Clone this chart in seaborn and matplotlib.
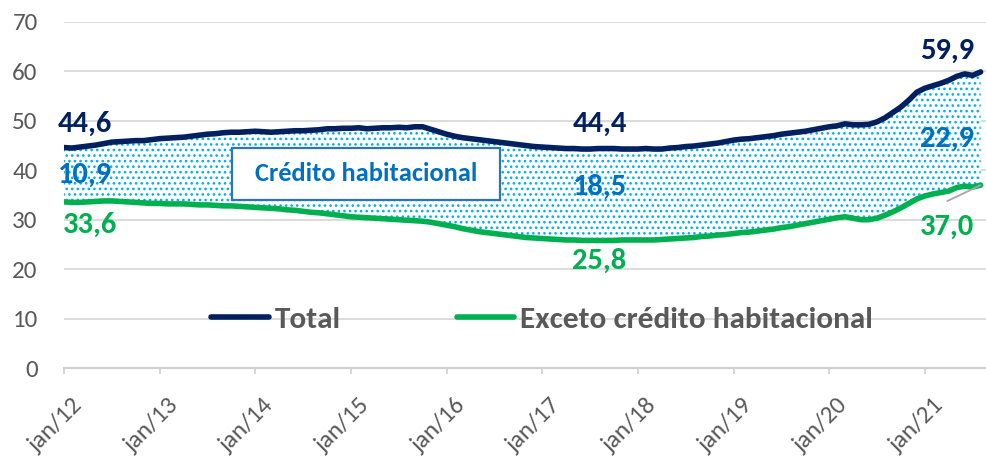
import matplotlib
matplotlib.use('Agg')
import matplotlib.pyplot as plt
from matplotlib.patches import Rectangle
from matplotlib.transforms import ScaledTranslation
import seaborn as sns
import pandas as pd
import numpy as np

# Série mensal jan/12 - ago/21 (% do PIB)
total = [
    44.6, 44.5, 44.7, 44.9, 45.1, 45.4, 45.7, 45.8, 45.9, 46.0, 46.0, 46.2,  # 2012
    46.4, 46.5, 46.6, 46.7, 46.9, 47.1, 47.3, 47.4, 47.6, 47.7, 47.7, 47.8,  # 2013
    47.9, 47.8, 47.7, 47.8, 47.9, 48.0, 48.0, 48.1, 48.2, 48.4, 48.4, 48.5,  # 2014
    48.5, 48.6, 48.4, 48.5, 48.6, 48.6, 48.7, 48.6, 48.8, 48.8, 48.3, 47.8,  # 2015
    47.3, 46.9, 46.6, 46.4, 46.2, 46.0, 45.8, 45.6, 45.4, 45.2, 45.0, 44.8,  # 2016
    44.7, 44.6, 44.5, 44.4, 44.4, 44.3, 44.3, 44.4, 44.4, 44.4, 44.3, 44.3,  # 2017
    44.3, 44.4, 44.3, 44.3, 44.5, 44.6, 44.8, 44.9, 45.1, 45.3, 45.5, 45.8,  # 2018
    46.1, 46.3, 46.4, 46.6, 46.8, 47.0, 47.3, 47.5, 47.7, 47.9, 48.2, 48.5,  # 2019
    48.8, 49.0, 49.4, 49.2, 49.2, 49.3, 49.8, 50.6, 51.7, 52.8, 54.2, 55.8,  # 2020
    56.6, 57.1, 57.6, 58.2, 59.0, 59.5, 59.2, 59.9,                          # 2021
]
exceto = [
    33.6, 33.5, 33.5, 33.6, 33.7, 33.8, 33.8, 33.7, 33.6, 33.5, 33.4, 33.3,  # 2012
    33.3, 33.2, 33.2, 33.2, 33.1, 33.0, 33.0, 32.9, 32.8, 32.8, 32.7, 32.6,  # 2013
    32.5, 32.4, 32.3, 32.2, 32.0, 31.9, 31.7, 31.5, 31.4, 31.2, 31.0, 30.8,  # 2014
    30.6, 30.5, 30.4, 30.3, 30.2, 30.1, 30.0, 29.9, 29.8, 29.7, 29.5, 29.2,  # 2015
    28.9, 28.6, 28.2, 27.9, 27.6, 27.4, 27.2, 27.0, 26.8, 26.6, 26.4, 26.3,  # 2016
    26.2, 26.1, 26.0, 25.9, 25.9, 25.8, 25.8, 25.8, 25.8, 25.8, 25.9, 25.9,  # 2017
    25.9, 25.9, 25.9, 26.0, 26.1, 26.2, 26.3, 26.4, 26.6, 26.7, 26.9, 27.0,  # 2018
    27.2, 27.4, 27.5, 27.7, 27.9, 28.1, 28.4, 28.6, 28.9, 29.2, 29.5, 29.8,  # 2019
    30.1, 30.4, 30.6, 30.3, 30.0, 30.0, 30.3, 30.9, 31.6, 32.4, 33.3, 34.2,  # 2020
    34.8, 35.2, 35.5, 35.8, 36.5, 36.8, 36.6, 37.0,                          # 2021
]
habitacional_rotulos = [10.9, 18.5, 22.9]
idx_rotulos = [0, 67, 115]
anos = ['12', '13', '14', '15', '16', '17', '18', '19', '20', '21']
tick_labels = ['jan/' + a for a in anos]

AZUL = '#002060'
VERDE = '#00B050'
AZUL_CLARO = '#0070C0'
PONTOS = '#00B0F0'
CINZA = '#595959'

meses = np.arange(len(total))
df = pd.DataFrame({'mes': meses, 'Total': total, 'Exceto': exceto})

sns.set_theme(style='white')
plt.rcParams['font.family'] = ['Carlito', 'DejaVu Sans']
plt.rcParams['hatch.linewidth'] = 1.1

fig = plt.figure(figsize=(9.87, 4.65), dpi=100)
ax = fig.add_axes([64 / 987, 1 - 368 / 465, 1 - 64 / 987, (368 - 22) / 465])

# área pontilhada = crédito habitacional
ax.fill_between(meses, exceto, total, facecolor='white', edgecolor=PONTOS,
                hatch='...', linewidth=0, zorder=1)

sns.lineplot(data=df, x='mes', y='Total', color=AZUL, linewidth=4,
             label='Total', ax=ax, zorder=3)
sns.lineplot(data=df, x='mes', y='Exceto', color=VERDE, linewidth=4,
             label='Exceto crédito habitacional', ax=ax, zorder=3)

def fmt(v):
    return f'{v:.1f}'.replace('.', ',')

# rótulos: deslocamentos em pontos
desl_total = [(15, 17), (1.5, 18), (-24, 15)]
desl_hab = [(15, 0), (1.5, 5.5), (-24, -7.5)]
desl_exc = [(19, -16.5), (1, -15), (-24, -30)]
for k, i in enumerate(idx_rotulos):
    ax.annotate(fmt(total[i]), (meses[i], total[i]), xytext=desl_total[k],
                textcoords='offset points', ha='center', va='center',
                fontsize=22, fontweight='bold', color=AZUL, zorder=5)
    meio = (total[i] + exceto[i]) / 2
    ax.annotate(fmt(habitacional_rotulos[k]), (meses[i], meio), xytext=desl_hab[k],
                textcoords='offset points', ha='center', va='center',
                fontsize=22, fontweight='bold', color=AZUL_CLARO, zorder=5)
    ax.annotate(fmt(exceto[i]), (meses[i], exceto[i]), xytext=desl_exc[k],
                textcoords='offset points', ha='center', va='center',
                fontsize=22, fontweight='bold', color=VERDE, zorder=5)

# linha de chamada do último rótulo verde
ax.annotate('', (meses[-1], exceto[-1]), xytext=(-24, -11.5), textcoords='offset points',
            arrowprops=dict(arrowstyle='-', color='#A6A6A6', lw=1.3, shrinkA=0, shrinkB=0),
            zorder=4)

# caixa "Crédito habitacional"
ax.add_patch(Rectangle((0.182, 0.4855), 0.290, 0.150, transform=ax.transAxes,
                       facecolor='white', edgecolor='#2E75B6', lw=1.6, zorder=6))
ax.text(0.327, 0.561, 'Crédito habitacional', transform=ax.transAxes,
        ha='center', va='center', fontsize=19, fontweight='bold', color=AZUL_CLARO,
        zorder=7)

ax.set_xlim(0, 115.8)
ax.set_ylim(0, 70)
ax.set_yticks(range(0, 80, 10))
ax.set_xticks(range(0, 116, 12))
ax.set_xticklabels(tick_labels, rotation=45, ha='right', va='center',
                   rotation_mode='anchor')
ax.set_xlabel('')
ax.set_ylabel('')
ax.grid(axis='y', color='#D9D9D9', linewidth=1.3)
ax.set_axisbelow(True)
ax.tick_params(axis='y', length=0, labelsize=18, labelcolor=CINZA, pad=19)
ax.tick_params(axis='x', length=4.5, width=1.2, color='#D0D0D0', labelsize=18,
               labelcolor=CINZA, pad=20, bottom=True)
desloc = ScaledTranslation(15 / 100, 0, fig.dpi_scale_trans)
for lb in ax.get_xticklabels():
    lb.set_transform(lb.get_transform() + desloc)
for s in ['top', 'right', 'left']:
    ax.spines[s].set_visible(False)
ax.spines['bottom'].set_color('#D0D0D0')
ax.spines['bottom'].set_linewidth(1.5)

ax.legend(loc='center', bbox_to_anchor=(0.518, 0.139), ncol=2, frameon=False,
          prop=dict(weight='bold', size=22.5), labelcolor=CINZA, handlelength=1.83,
          handletextpad=0.2, columnspacing=3.7)

fig.savefig('out.png', dpi=100)
